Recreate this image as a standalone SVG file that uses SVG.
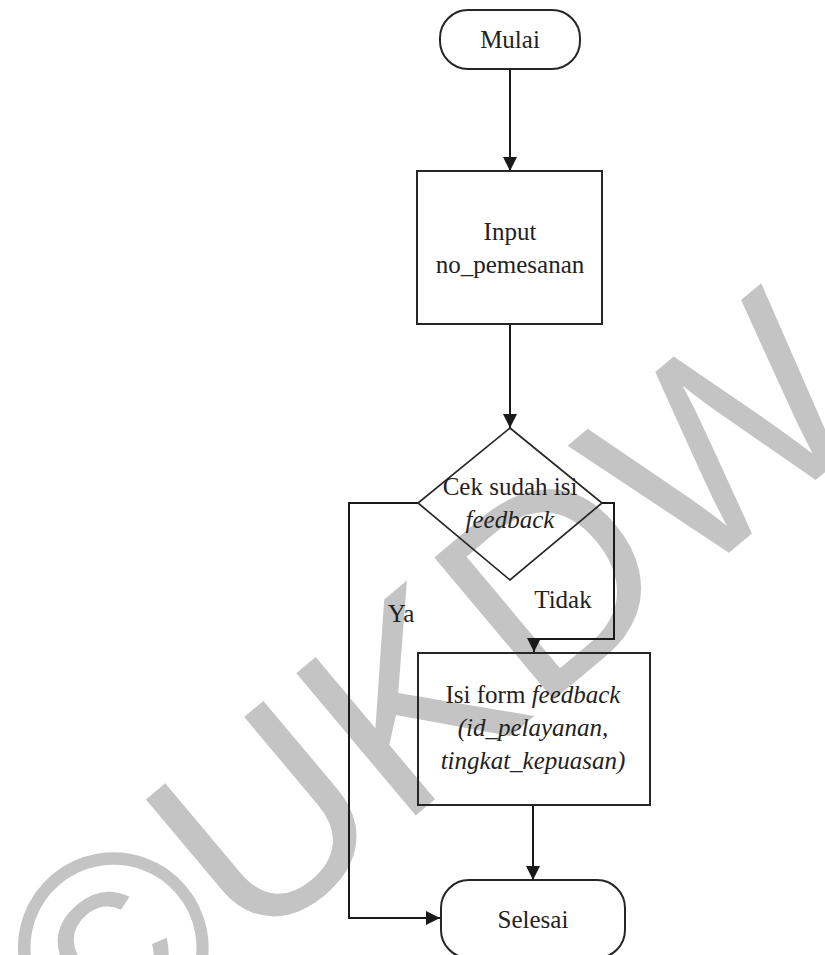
<svg xmlns="http://www.w3.org/2000/svg" width="825" height="955" viewBox="0 0 825 955">
<style>
.shape{fill:none;stroke:#262626;stroke-width:2}
.dia{fill:none;stroke:#262626;stroke-width:1.7}
.conn{fill:none;stroke:#1a1a1a;stroke-width:2}
.t{font-family:"Liberation Serif","Times New Roman",serif;font-size:25px;fill:#222;text-anchor:middle}
.i{font-style:italic}
.wm{font-family:"Liberation Sans",Arial,sans-serif;font-size:270px;fill:#c4c4c4}
</style>
<defs>
<marker id="arr" markerUnits="userSpaceOnUse" markerWidth="14" markerHeight="14" refX="14" refY="7" orient="auto">
<path d="M0,0 L14,7 L0,14 Z" fill="#1a1a1a"/>
</marker>
</defs>
<rect width="825" height="955" fill="#fff"/>
<g id="watermark">
<text class="wm" transform="translate(97,1083) rotate(-40)">©UKDW</text>
</g>
<g id="connectors">
<path class="conn" d="M510,69 V171" marker-end="url(#arr)"/>
<path class="conn" d="M510,324 V428" marker-end="url(#arr)"/>
<path class="conn" d="M602,503 H614 V639 H534 V652" marker-end="url(#arr)"/>
<path class="conn" d="M418,503 H349 V918 H440" marker-end="url(#arr)"/>
<path class="conn" d="M533,805 V880" marker-end="url(#arr)"/>
<text class="t" x="563" y="608">Tidak</text>
<text class="t" x="401" y="622">Ya</text>
</g>
<g id="mulai">
<rect class="shape" x="440" y="10" width="140" height="59" rx="28" ry="28"/>
<text class="t" x="510" y="48">Mulai</text>
</g>
<g id="input">
<rect class="shape" x="417" y="171" width="185" height="153"/>
<text class="t" x="510" y="240">Input</text>
<text class="t" x="510" y="273">no_pemesanan</text>
</g>
<g id="cek">
<path class="dia" d="M510,428 L602,503 L510,580 L418,503 Z"/>
<text class="t" x="510" y="495">Cek sudah isi</text>
<text class="t i" x="510" y="528">feedback</text>
</g>
<g id="isi">
<rect class="shape" x="418" y="653" width="232" height="152"/>
<text class="t" x="533" y="703">Isi form <tspan class="i">feedback</tspan></text>
<text class="t i" x="533" y="736">(id_pelayanan,</text>
<text class="t i" x="533" y="769">tingkat_kepuasan)</text>
</g>
<g id="selesai">
<rect class="shape" x="441" y="880" width="184" height="78" rx="28" ry="28"/>
<text class="t" x="533" y="928">Selesai</text>
</g>
</svg>
